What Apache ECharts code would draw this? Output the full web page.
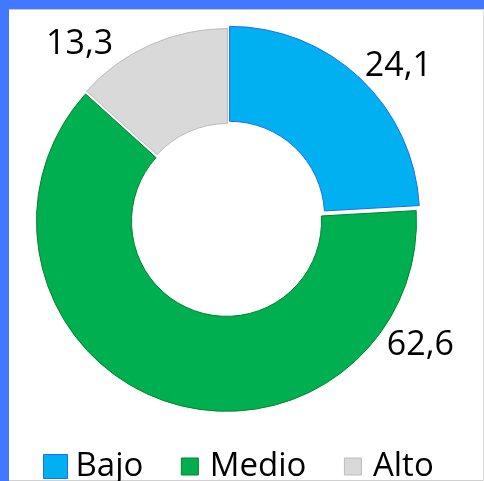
<!DOCTYPE html>
<html>
<head>
<meta charset="utf-8">
<script src="https://cdn.jsdelivr.net/npm/echarts@6/dist/echarts.min.js"></script>
<style>
  html, body { margin: 0; padding: 0; background: #fff; }
  #frame { position: absolute; left: 0; top: 0; width: 484px; height: 481px; }
  #bar-top { position: absolute; left: 0; top: 0; width: 484px; height: 9px; background: #4178ff; }
  #bar-left { position: absolute; left: 0; top: 0; width: 9px; height: 481px; background: #4178ff; }
  #line-top { position: absolute; left: 9px; top: 9px; width: 475px; height: 1px; background: #c8c8c8; }
  #line-bottom { position: absolute; left: 9px; top: 480px; width: 475px; height: 1px; background: #d0d0d0; }
  #line-right { position: absolute; left: 483px; top: 9px; width: 1px; height: 472px; background: #e0e0e0; }
  #chart { position: absolute; left: 0; top: 0; width: 484px; height: 481px; }
</style>
</head>
<body>
<div id="frame">
  <div id="bar-top"></div>
  <div id="bar-left"></div>
  <div id="line-top"></div>
  <div id="line-bottom"></div>
  <div id="line-right"></div>
</div>
<div id="chart"></div>
<script>
const categories = ["Bajo", "Medio", "Alto"];
const values = [24.1, 62.6, 13.3];

const fills = ["#00b0f0", "#00b050", "#d9d9d9"];
const borders = ["#1a6ff0", "#00842f", "#bcbcbc"];
const exploded = [true, true, false];
// where Excel put the data labels (degrees clockwise from top)
const labelAngles = [48, 123, 320];
const labelRadius = 230;

const cx = 227.5, cy = 218.5;
const font = "'Open Sans', 'Noto Sans', sans-serif";

const chart = echarts.init(document.getElementById("chart"));

// legend icons: a square inside a 30x24 box (Bajo drawn larger)
const bigIcon = "path://M0 0M30 24M3 0H27V24H3Z";
const smallIcon = "path://M0 0M30 24M6.5 3.5H23.5V20.5H6.5Z";

const fmt = (v) => v.toFixed(1).replace(".", ",");

chart.setOption({
  animation: false,
  legend: {
    left: 40,
    top: 450,
    padding: 0,
    itemWidth: 30,
    itemHeight: 24,
    itemGap: 31,
    textStyle: { fontFamily: font, fontSize: 33, color: "#000" },
    data: categories.map((c, i) => ({
      name: c,
      icon: i === 0 ? bigIcon : smallIcon,
      itemStyle: { color: fills[i], borderColor: borders[i], borderWidth: 1 },
    })),
  },
  polar: { center: [cx, cy], radius: labelRadius + 10 },
  angleAxis: {
    type: "value", min: 0, max: 360, startAngle: 90, clockwise: true, show: false,
  },
  radiusAxis: { type: "value", min: 0, max: labelRadius + 10, show: false },
  series: [
    {
      type: "pie",
      center: [cx, cy],
      radius: [95, 190],
      startAngle: 90,
      clockwise: true,
      selectedMode: "multiple",
      selectedOffset: 3,
      emphasis: { disabled: true },
      label: { show: false },
      labelLine: { show: false },
      data: categories.map((c, i) => ({
        name: c,
        value: values[i],
        selected: exploded[i],
        itemStyle: { color: fills[i], borderColor: borders[i], borderWidth: 1 },
        select: { itemStyle: { color: fills[i], borderColor: borders[i], borderWidth: 1 } },
      })),
    },
    {
      // data labels, placed on the polar scale
      type: "scatter",
      coordinateSystem: "polar",
      symbolSize: 2,
      itemStyle: { color: "rgba(0,0,0,0)" },
      silent: true,
      label: {
        show: true,
        position: "inside",
        offset: [0, 2],
        fontFamily: font,
        fontSize: 34,
        color: "#000",
        opacity: 1,
        textBorderWidth: 0,
        formatter: (p) => fmt(values[p.dataIndex]),
      },
      data: labelAngles.map((a) => [labelRadius, a]),
    },
  ],
});
</script>
</body>
</html>
